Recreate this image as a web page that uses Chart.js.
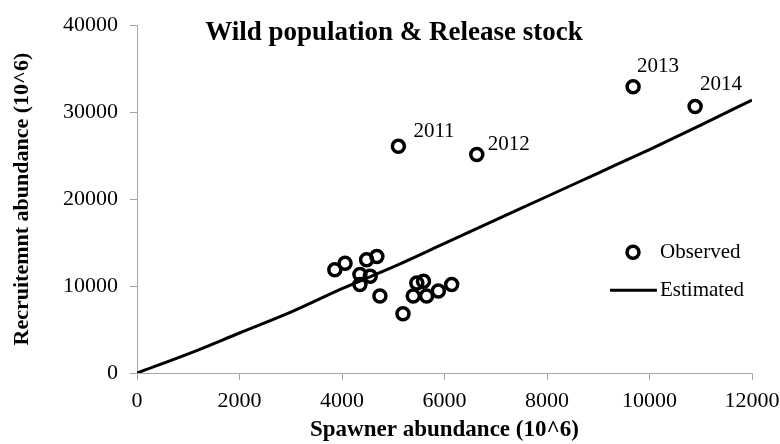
<!DOCTYPE html>
<html>
<head>
<meta charset="utf-8">
<title>Wild population &amp; Release stock</title>
<script src="https://cdn.jsdelivr.net/npm/chart.js@4.4.1/dist/chart.umd.min.js"></script>
<style>
  html, body { margin: 0; padding: 0; background: #fff; }
  #wrap { position: relative; width: 780px; height: 444px; }
</style>
</head>
<body>
<div id="wrap"><canvas id="srChart"></canvas></div>
<script>
// Observed spawner / recruitment pairs (10^6)
var spawner = [3860, 4060, 4480, 4680, 4350, 4550, 4350, 4740, 5190, 5460, 5590, 5390, 5650, 5880, 6140, 5100, 6630, 9680, 10890];
var recruit = [11880, 12630, 13020, 13390, 11320, 11120, 10180, 8850, 6810, 10360, 10560, 8850, 8850, 9420, 10180, 26070, 25120, 32920, 30650];
var yearLabels = ['', '', '', '', '', '', '', '', '', '', '', '', '', '', '', '2011', '2012', '2013', '2014'];

// Estimated stock-recruitment curve, sampled off the drawn line
var estSpawner = [0, 1000, 2000, 3000, 4000, 5000, 6000, 7000, 8000, 9000, 10000, 11000, 12000];
var estRecruit = [0, 2200, 4600, 7000, 9700, 12200, 14900, 17600, 20300, 23000, 25700, 28500, 31400];

var chartTitle = 'Wild population & Release stock';
var xTitle = 'Spawner abundance (10^6)';
var yTitle = 'Recruitemnt abundance (10^6)';
var seriesNames = ['Observed', 'Estimated'];

var serif = "'Liberation Serif', 'Times New Roman', serif";
var axisGrey = '#a6a6a6';

Chart.defaults.font.family = serif;
Chart.defaults.color = '#000';

/* year tags next to the last four observed points */
var yearTags = {
    id: 'yearTags',
    afterDatasetsDraw: function (chart, args, opts) {
        var meta = chart.getDatasetMeta(0);
        var ctx = chart.ctx;
        ctx.save();
        ctx.font = opts.size + 'px ' + serif;
        ctx.fillStyle = '#000';
        ctx.textAlign = 'left';
        ctx.textBaseline = 'middle';
        yearLabels.forEach(function (lab, i) {
            if (!lab) return;
            var pt = meta.data[i];
            var off = opts.offsets[lab] || [12, -14];
            ctx.fillText(lab, pt.x + off[0], pt.y + off[1]);
        });
        ctx.restore();
    }
};

/* title sits inside the plot, so draw it rather than use the title plugin */
var innerTitle = {
    id: 'innerTitle',
    afterDraw: function (chart, args, opts) {
        var ctx = chart.ctx;
        ctx.save();
        ctx.font = 'bold ' + opts.size + 'px ' + serif;
        ctx.fillStyle = '#000';
        ctx.textAlign = 'center';
        ctx.textBaseline = 'middle';
        ctx.fillText(chartTitle, chart.width / 2 + opts.dx, chart.chartArea.top + opts.dy);
        ctx.restore();
    }
};

/* legend box in the lower right of the plot */
var innerLegend = {
    id: 'innerLegend',
    afterDraw: function (chart, args, opts) {
        var ctx = chart.ctx;
        var area = chart.chartArea;
        var obs = chart.data.datasets[0];
        var est = chart.data.datasets[1];
        var x0 = area.right - opts.right;
        var y0 = area.top + opts.top;
        ctx.save();
        // observed marker
        ctx.beginPath();
        ctx.arc(x0, y0, obs.pointRadius, 0, Math.PI * 2);
        ctx.lineWidth = obs.pointBorderWidth;
        ctx.strokeStyle = obs.pointBorderColor;
        ctx.stroke();
        // estimated line sample
        ctx.beginPath();
        ctx.moveTo(x0 - 23, y0 + opts.gap);
        ctx.lineTo(x0 + 24, y0 + opts.gap);
        ctx.lineWidth = est.borderWidth;
        ctx.strokeStyle = est.borderColor;
        ctx.stroke();

        ctx.font = opts.size + 'px ' + serif;
        ctx.fillStyle = '#000';
        ctx.textAlign = 'left';
        ctx.textBaseline = 'middle';
        ctx.fillText(seriesNames[0], x0 + 27, y0);
        ctx.fillText(seriesNames[1], x0 + 27, y0 + opts.gap);
        ctx.restore();
    }
};

var obsPoints = spawner.map(function (s, i) { return { x: s, y: recruit[i] }; });
var estPoints = estSpawner.map(function (s, i) { return { x: s, y: estRecruit[i] }; });

// plain numbers on the axes, no thousands separator
var plainTick = function (v) { return String(v); };

var srChart = new Chart(document.getElementById('srChart'), {
    type: 'scatter',
    data: {
        datasets: [{
            label: seriesNames[0],
            data: obsPoints,
            pointStyle: 'circle',
            pointRadius: 6,
            pointHoverRadius: 6,
            pointBorderWidth: 3.5,
            pointBorderColor: '#000',
            pointBackgroundColor: 'rgba(255,255,255,0)',
            showLine: false,
            order: 1
        }, {
            label: seriesNames[1],
            type: 'line',
            data: estPoints,
            borderColor: '#000',
            borderWidth: 3,
            pointRadius: 0,
            fill: false,
            cubicInterpolationMode: 'monotone',
            order: 2
        }]
    },
    options: {
        responsive: true,
        maintainAspectRatio: false,
        animation: false,
        layout: { padding: { top: 20, right: 28, left: 0, bottom: 0 } },
        plugins: {
            legend: { display: false },
            tooltip: { enabled: false },
            yearTags: { size: 21, offsets: { '2011': [15, -15], '2012': [11, -10], '2013': [4, -20], '2014': [5, -22] } },
            innerTitle: { size: 27, dx: 4, dy: 8 },
            innerLegend: { size: 21, right: 119, top: 227, gap: 38 }
        },
        scales: {
            x: {
                type: 'linear',
                min: 0,
                max: 12000,
                ticks: { stepSize: 2000, font: { size: 22 }, color: '#000', padding: 8, maxRotation: 0, callback: plainTick },
                grid: { display: true, drawOnChartArea: false, drawTicks: true, tickLength: 7, color: axisGrey },
                border: { display: true, color: axisGrey, width: 1 },
                title: { display: true, text: xTitle, font: { size: 23, weight: 'bold' }, color: '#000', padding: { top: 0, bottom: 0 } },
                afterFit: function (scale) {
                    scale.height = 71;
                    // let the layout padding decide the right edge, not the last label
                    scale.paddingLeft = 0;
                    scale.paddingRight = 0;
                }
            },
            y: {
                type: 'linear',
                min: 0,
                max: 40000,
                ticks: { stepSize: 10000, font: { size: 22 }, color: '#000', padding: 12, callback: plainTick },
                grid: { display: true, drawOnChartArea: false, drawTicks: true, tickLength: 7, color: axisGrey },
                border: { display: true, color: axisGrey, width: 1 },
                title: { display: true, text: yTitle, font: { size: 22, weight: 'bold' }, color: '#000', padding: { top: 9, bottom: 0 } },
                afterFit: function (scale) { scale.width = 137; }
            }
        }
    },
    plugins: [yearTags, innerTitle, innerLegend]
});
</script>
</body>
</html>
